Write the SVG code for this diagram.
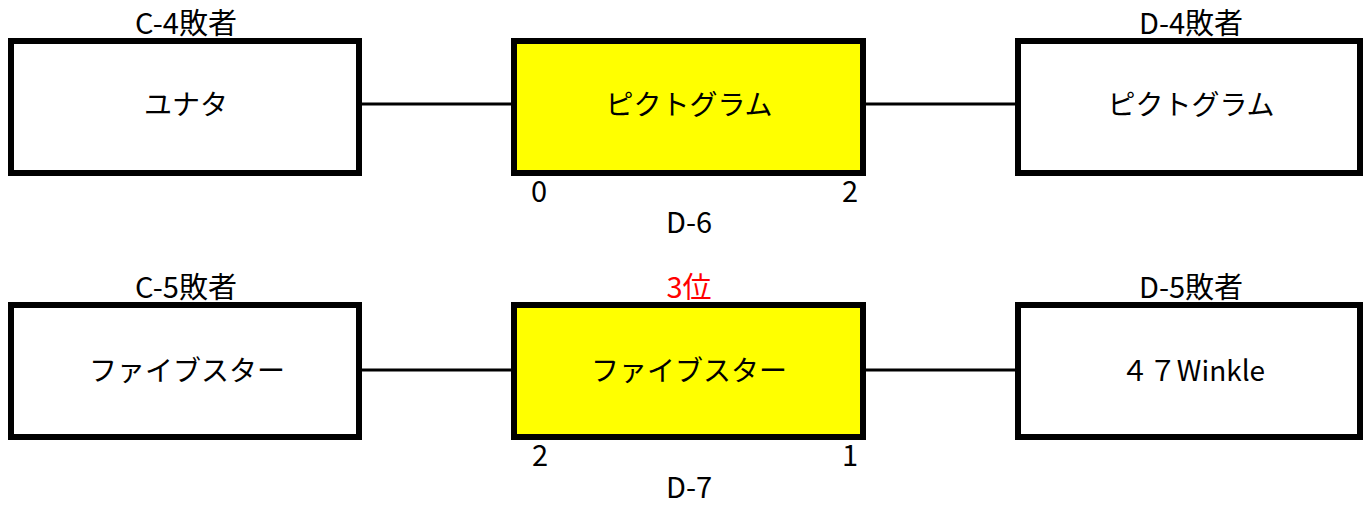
<svg xmlns="http://www.w3.org/2000/svg" width="1369" height="506" viewBox="0 0 1369 506">
<style>
.box{fill:#fff;stroke:#000;stroke-width:6}
.win{fill:#ffff00;stroke:#000;stroke-width:6}
.name{font-family:"Noto Sans CJK JP","Noto Sans",sans-serif;font-size:28px;fill:#000;text-anchor:middle}
.lbl{font-family:"Noto Sans CJK JP","Noto Sans",sans-serif;font-size:29px;fill:#000;text-anchor:middle}
.red{fill:#ff0000}
.conn line{stroke:#000;stroke-width:3}
</style>
<rect width="1369" height="506" fill="#fff"/>
<g class="conn" id="connectors">
<line x1="362" y1="104" x2="511" y2="104"/>
<line x1="866" y1="104" x2="1015" y2="104"/>
<line x1="362" y1="370" x2="511" y2="370"/>
<line x1="866" y1="370" x2="1015" y2="370"/>
</g>
<g id="n-c4">
<text class="lbl" x="186" y="34">C-4敗者</text>
<rect class="box" x="11" y="41" width="348" height="132"/>
<text class="name" x="186" y="115">ユナタ</text>
</g>
<g id="n-d6">
<rect class="win" x="514" y="41" width="349" height="132"/>
<text class="name" x="689" y="115">ピクトグラム</text>
<text class="lbl" x="539" y="202">0</text>
<text class="lbl" x="850" y="202">2</text>
<text class="lbl" x="689" y="233">D-6</text>
</g>
<g id="n-d4">
<text class="lbl" x="1191" y="34">D-4敗者</text>
<rect class="box" x="1018" y="41" width="342" height="132"/>
<text class="name" x="1191" y="115">ピクトグラム</text>
</g>
<g id="n-c5">
<text class="lbl" x="186" y="298">C-5敗者</text>
<rect class="box" x="11" y="305" width="348" height="132"/>
<text class="name" x="187" y="381">ファイブスター</text>
</g>
<g id="n-d7">
<text class="lbl red" x="689" y="298">3位</text>
<rect class="win" x="514" y="305" width="349" height="132"/>
<text class="name" x="689" y="381">ファイブスター</text>
<text class="lbl" x="540" y="466">2</text>
<text class="lbl" x="850" y="466">1</text>
<text class="lbl" x="689" y="498">D-7</text>
</g>
<g id="n-d5">
<text class="lbl" x="1191" y="298">D-5敗者</text>
<rect class="box" x="1018" y="305" width="342" height="132"/>
<text class="name" x="1193" y="381">４７Winkle</text>
</g>
</svg>
